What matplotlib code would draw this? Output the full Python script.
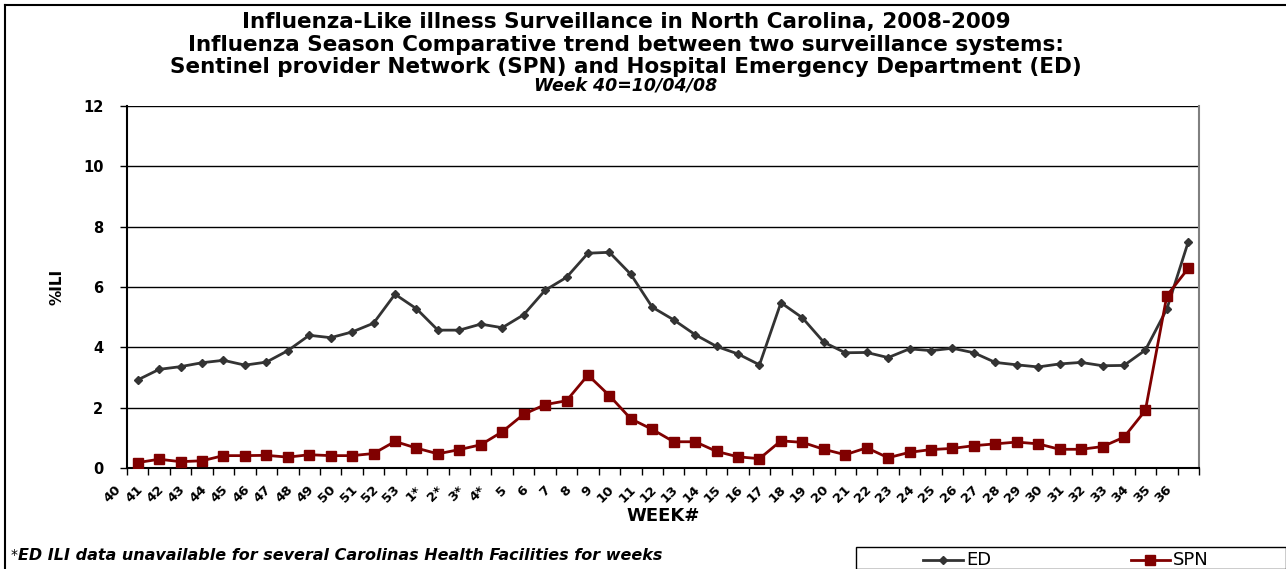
import matplotlib.pyplot as plt
import matplotlib.transforms as mtransforms
from matplotlib.lines import Line2D
from matplotlib.patches import Rectangle

# ---- data ----
weeks = ['40', '41', '42', '43', '44', '45', '46', '47', '48', '49', '50', '51', '52', '53',
         '1*', '2*', '3*', '4*'] + [str(w) for w in range(5, 37)]
ed = [2.92, 3.27, 3.36, 3.49, 3.57, 3.41, 3.51, 3.89, 4.40, 4.32,
      4.51, 4.80, 5.76, 5.28, 4.57, 4.57, 4.77, 4.65, 5.08, 5.89,
      6.32, 7.12, 7.15, 6.42, 5.33, 4.91, 4.42, 4.03, 3.78, 3.42,
      5.48, 4.98, 4.17, 3.82, 3.83, 3.66, 3.95, 3.89, 3.97, 3.82,
      3.50, 3.42, 3.35, 3.45, 3.50, 3.39, 3.40, 3.91, 5.27, 7.50]
spn = [0.18, 0.29, 0.21, 0.24, 0.41, 0.41, 0.42, 0.36, 0.44, 0.41,
       0.41, 0.48, 0.88, 0.66, 0.47, 0.61, 0.77, 1.20, 1.78, 2.10,
       2.23, 3.08, 2.40, 1.63, 1.28, 0.87, 0.87, 0.55, 0.37, 0.31,
       0.90, 0.85, 0.62, 0.44, 0.67, 0.34, 0.52, 0.61, 0.65, 0.74,
       0.80, 0.86, 0.80, 0.62, 0.62, 0.71, 1.02, 1.91, 5.71, 6.62]
yticks = [0, 2, 4, 6, 8, 10, 12]

# wide face: the source text is stretched sideways
plt.rcParams['font.family'] = ['DejaVu Sans']

W, H = 1286, 569
fig = plt.figure(figsize=(W / 100, H / 100), dpi=100)
ax = fig.add_axes([127 / W, 1 - 468 / H, (1199 - 127) / W, (468 - 106) / H])

x = list(range(len(weeks)))
ax.plot(x, ed, color='#333333', lw=2, marker='D', ms=4.5, label='ED', zorder=3)
ax.plot(x, spn, color='#800000', lw=2, marker='s', ms=7, label='SPN', zorder=3)

ax.set_xlim(-0.5, len(weeks) - 0.5)
ax.set_ylim(0, 12)
ax.set_yticks(yticks)
ax.set_yticklabels([str(v) for v in yticks], fontsize=10.5, fontweight='bold')
ax.yaxis.grid(True, color='black', lw=1)
ax.set_axisbelow(True)
ax.tick_params(axis='y', length=5, width=1, direction='out', pad=12)

# category labels + tick marks between categories
ax.set_xticks(x)
ax.set_xticklabels(weeks, rotation=45, ha='right', va='top', fontsize=9.5, fontweight='bold')
ax.set_xticks([i - 0.5 for i in range(len(weeks) + 1)], minor=True)
ax.tick_params(axis='x', which='major', length=0, pad=11)
ax.tick_params(axis='x', which='minor', length=5, width=1, direction='out')
shift = mtransforms.ScaledTranslation(-0.14, 0, fig.dpi_scale_trans)
for lab in ax.get_xticklabels():
    lab.set_transform(lab.get_transform() + shift)

for s in ['left', 'bottom']:
    ax.spines[s].set_color('black')
    ax.spines[s].set_linewidth(1.5)
ax.spines['right'].set_color('#808080')
ax.spines['right'].set_linewidth(1.5)
ax.spines['top'].set_visible(False)

ax.set_xlabel('WEEK#', fontsize=13, fontweight='bold', labelpad=1)
ax.set_ylabel('%ILI', fontsize=11, fontweight='bold', labelpad=13)

# titles
fig.text(626 / W, 1 - 22 / H, 'Influenza-Like illness Surveillance in North Carolina, 2008-2009',
         ha='center', va='center', fontsize=15.5, fontweight='bold')
fig.text(626 / W, 1 - 45 / H, 'Influenza Season Comparative trend between two surveillance systems:',
         ha='center', va='center', fontsize=15.5, fontweight='bold')
fig.text(626 / W, 1 - 67 / H, 'Sentinel provider Network (SPN) and Hospital Emergency Department (ED)',
         ha='center', va='center', fontsize=15.5, fontweight='bold')
fig.text(626 / W, 1 - 86 / H, 'Week 40=10/04/08',
         ha='center', va='center', fontsize=12.5, fontweight='bold', style='italic')

# footnote
fig.text(11 / W, 1 - 555 / H, '*', ha='left', va='center', fontsize=10)
fig.text(18 / W, 1 - 555 / H, 'ED ILI data unavailable for several Carolinas Health Facilities for weeks',
         ha='left', va='center', fontsize=11.5, fontweight='bold', style='italic')

# outer frame
fig.add_artist(Line2D([5 / W, 1], [1 - 5 / H, 1 - 5 / H], color='black', lw=1.5))
fig.add_artist(Line2D([5 / W, 5 / W], [0, 1 - 5 / H], color='black', lw=1.5))

# legend box at the bottom right
fig.add_artist(Rectangle((856 / W, 0), 1 - 856 / W, (H - 547) / H, transform=fig.transFigure,
                         facecolor='white', edgecolor='black', lw=1))
ly = 1 - 560 / H
fig.add_artist(Line2D([923 / W, 963 / W], [ly, ly], color='#333333', lw=2))
fig.add_artist(Line2D([943 / W], [ly], color='#333333', marker='D', ms=4.5))
fig.text(966 / W, ly, 'ED', ha='left', va='center', fontsize=13)
fig.add_artist(Line2D([1131 / W, 1170 / W], [ly, ly], color='#800000', lw=2))
fig.add_artist(Line2D([1150 / W], [ly], color='#800000', marker='s', ms=7))
fig.text(1173 / W, ly, 'SPN', ha='left', va='center', fontsize=13)

fig.savefig('out.png', dpi=100)
